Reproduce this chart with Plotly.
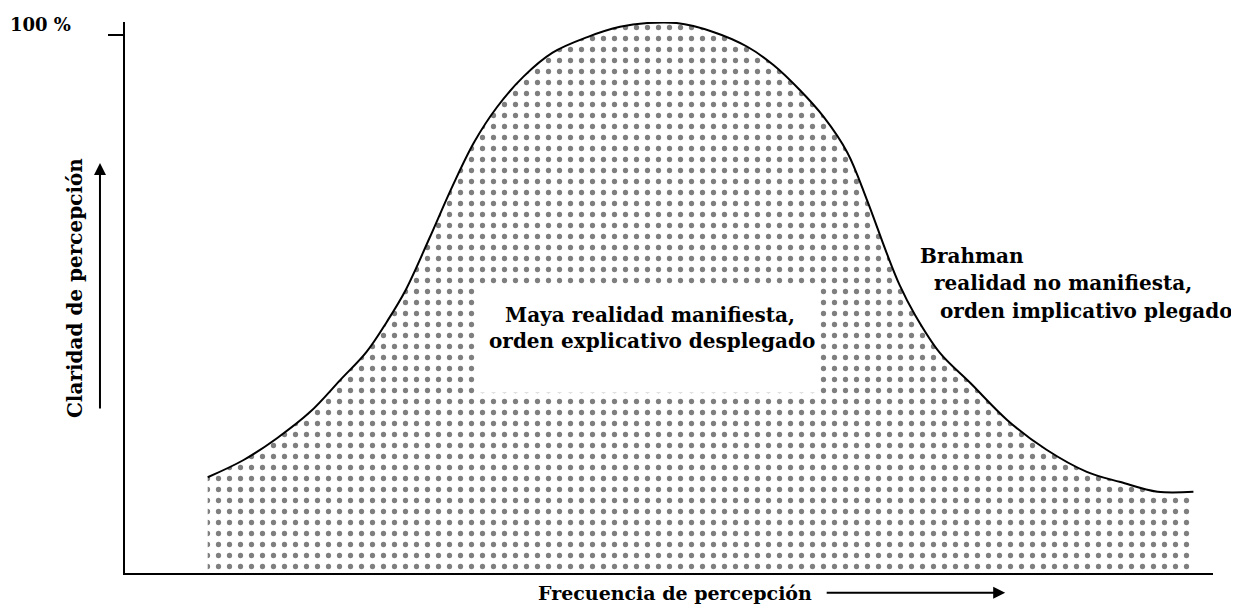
import plotly.graph_objects as go

# curve: x = frequency (0-100 along the axis), y = clarity in %
frecuencia = [7.6, 10.9, 14.0, 17.0, 19.8, 22.2, 24.1, 25.8, 28.0, 30.1, 32.1, 34.2,
              36.6, 39.3, 42.5, 45.5, 48.0, 50.7, 54.0, 57.2, 59.6, 62.0, 64.2, 66.4,
              68.2, 70.0, 71.2, 72.6, 74.9, 77.7, 81.1, 84.7, 88.4, 91.5, 94.9, 98.2]
claridad = [17.8, 21.0, 25.1, 29.9, 35.9, 41.1, 46.8, 52.6, 62.3, 71.9, 80.1, 86.6,
            92.2, 96.7, 99.6, 101.5, 102.2, 102.2, 100.6, 97.8, 94.4, 89.8, 84.8, 78.1,
            69.3, 59.5, 53.5, 48.0, 40.9, 35.3, 28.4, 22.9, 18.8, 16.9, 15.1, 15.1]

Y_TICKS = [100]
FONT = "DejaVu Serif"
INK = "black"

fig = go.Figure()
fig.add_trace(
    go.Scatter(
        x=frecuencia,
        y=claridad,
        mode="lines",
        line=dict(color=INK, width=2, shape="spline", smoothing=1.0),
        fill="tozeroy",
        fillcolor="white",
        fillpattern=dict(shape=".", fgcolor=INK, bgcolor="white", size=11, solidity=0.18),
        hoverinfo="skip",
        showlegend=False,
    )
)

# white label box inside the dotted area
fig.add_shape(type="rect", x0=32.4, x1=63.6, y0=33.5, y1=53.2, xref="x", yref="y",
              fillcolor="white", line=dict(width=0), layer="above")

text_font = dict(family=FONT, size=20, color=INK, weight="bold")
labels = [
    ("Maya realidad manifiesta,", 34.7, 47.9),
    ("orden explicativo desplegado", 33.3, 43.1),
    ("Brahman", 72.9, 58.9),
    ("realidad no manifiesta,", 74.2, 53.9),
    ("orden implicativo plegado", 74.7, 48.7),
]
for text, x, y in labels:
    fig.add_annotation(text=text, x=x, y=y, xref="x", yref="y", xanchor="left",
                       yanchor="middle", showarrow=False, font=text_font)

fig.add_annotation(text="100 %", x=-0.1075, y=101.9, xref="paper", yref="y",
                   xanchor="left", yanchor="middle", showarrow=False,
                   font=dict(family=FONT, size=18, color=INK, weight="bold"))

# axis titles with their arrows
fig.add_annotation(text="Claridad de percepción", x=-0.046, y=0.517, xref="paper", yref="paper",
                   xanchor="center", yanchor="middle", textangle=-90, showarrow=False,
                   font=text_font)
fig.add_annotation(text="", x=-0.023, y=0.744, xref="paper", yref="paper",
                   showarrow=True, ax=0, ay=247, arrowhead=2, arrowsize=1.2,
                   arrowwidth=2, arrowcolor=INK)
fig.add_annotation(text="Frecuencia de percepción", x=50.55, y=-0.036, xref="x", yref="paper",
                   xanchor="center", yanchor="middle", showarrow=False,
                   font=dict(family=FONT, size=19, color=INK, weight="bold"))
fig.add_annotation(text="", x=80.9, y=-0.036, xref="x", yref="paper",
                   showarrow=True, ax=-180, ay=0, arrowhead=2, arrowsize=1.2,
                   arrowwidth=2, arrowcolor=INK)

# page body adds an 8px margin, so the figure is a bit smaller than the window
fig.update_layout(
    width=1223,
    height=597,
    margin=dict(l=117, r=18, t=14, b=32),
    paper_bgcolor="white",
    plot_bgcolor="white",
    showlegend=False,
)
fig.update_xaxes(range=[0, 100], showline=True, linecolor=INK, linewidth=2,
                 showgrid=False, zeroline=False, showticklabels=False, ticks="")
fig.update_yaxes(range=[0, 102.4], showline=True, linecolor=INK, linewidth=2,
                 showgrid=False, zeroline=False, showticklabels=False,
                 tickvals=Y_TICKS, ticks="outside", ticklen=15, tickwidth=2, tickcolor=INK)

fig.write_html("out.html")
